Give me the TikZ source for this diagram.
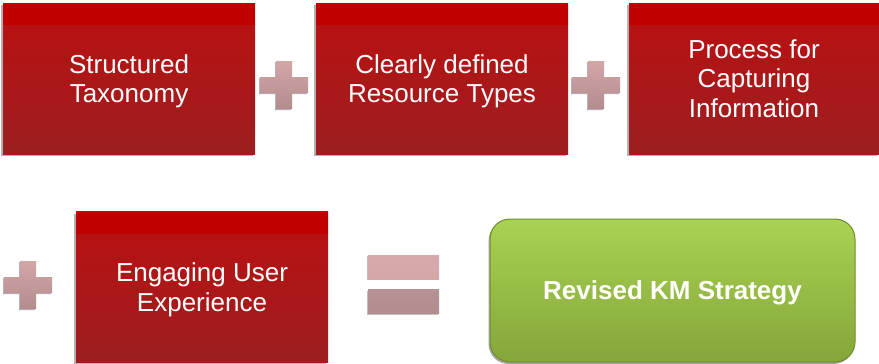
\documentclass[tikz,border=0pt]{standalone}
\usepackage{fontspec}
\setmainfont{Liberation Sans}
\usetikzlibrary{shadows}
\definecolor{bandred}{HTML}{C00000}
\definecolor{redtop}{HTML}{BC1010}
\definecolor{redbot}{HTML}{9C1E20}
\definecolor{pinktop}{HTML}{D4A6A8}
\definecolor{pinkbot}{HTML}{B38C8E}
\definecolor{greentop}{HTML}{A9D252}
\definecolor{greenbot}{HTML}{84A63A}
\definecolor{greenedge}{HTML}{6E8E2C}
\tikzset{
  redbox/.style={rectangle, minimum width=252pt, minimum height=151pt, inner sep=0pt,
    top color=redtop, bottom color=redbot, text=white, align=center, text depth=0pt,
    font=\fontsize{26}{29.5}\selectfont,
    general shadow={shadow xshift=-2pt, shadow yshift=-2pt, fill=black!30},
    path picture={\fill[bandred] (path picture bounding box.north west) rectangle ([yshift=-22pt]path picture bounding box.north east);}},
  greenbox/.style={rectangle, rounded corners=20pt, minimum width=365pt, minimum height=143pt,
    inner sep=0pt, top color=greentop, bottom color=greenbot, draw=greenedge, line width=1pt,
    text=white, font=\fontsize{26}{30}\bfseries\selectfont, text depth=0pt,
    general shadow={shadow xshift=-1.5pt, shadow yshift=-2pt, fill=black!35, rounded corners=20pt}},
  eqbar/.style={rectangle, minimum width=71pt, minimum height=24pt, inner sep=0pt,
    general shadow={shadow xshift=-1pt, shadow yshift=-1pt, fill=black!25}},
  plussign/.pic={
    \fill[black!30, xshift=-1pt, yshift=-1pt] (-8,-24) -- (8,-24) -- (8,-8) -- (24,-8) -- (24,8) -- (8,8) -- (8,24) -- (-8,24) -- (-8,8) -- (-24,8) -- (-24,-8) -- (-8,-8) -- cycle;
    \shade[top color=pinktop, bottom color=pinkbot] (-8,-24) -- (8,-24) -- (8,-8) -- (24,-8) -- (24,8) -- (8,8) -- (8,24) -- (-8,24) -- (-8,8) -- (-24,8) -- (-24,-8) -- (-8,-8) -- cycle;
  }
}
\begin{document}
\begin{tikzpicture}[x=1pt,y=-1pt]
\useasboundingbox (0,0) rectangle (879,364);
\node[redbox] (b1) at (129,78.5) {Structured\\Taxonomy};
\node[redbox] (b2) at (442,78.5) {Clearly defined\\Resource Types};
\node[redbox, minimum width=250pt] (b3) at (754,78.5) {Process for\\Capturing\\Information};
\node[redbox] (b4) at (202,287) {Engaging User\\Experience};
\node[greenbox] (g) at (672.5,290.5) {Revised KM Strategy};
\node[eqbar, top color=pinktop!95!white, bottom color=pinktop] (e1) at (403.5,267) {};
\node[eqbar, top color=pinkbot!95!white, bottom color=pinkbot] (e2) at (403.5,301.5) {};
\pic at (284,85) {plussign};
\pic at (596,85) {plussign};
\pic at (28,285) {plussign};
\end{tikzpicture}
\end{document}
